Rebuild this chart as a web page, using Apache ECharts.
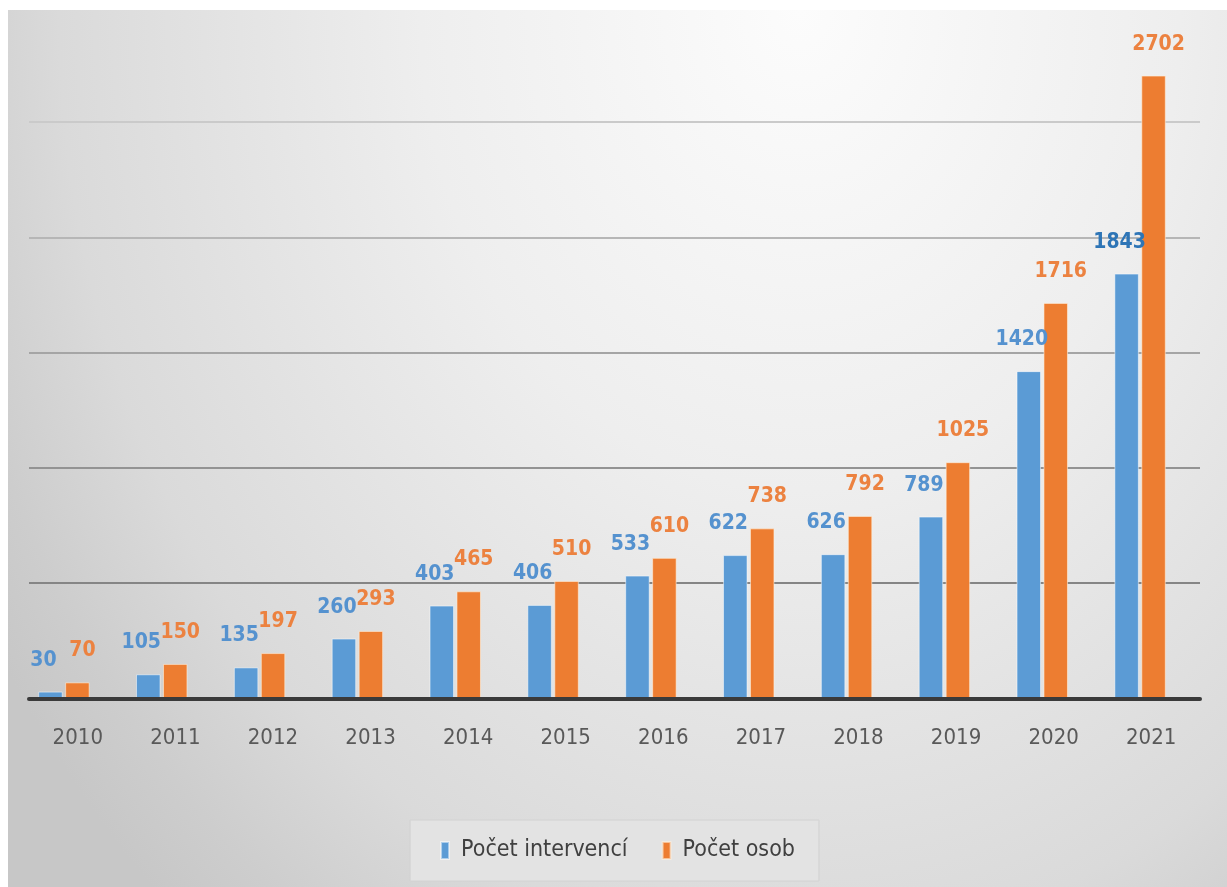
<!DOCTYPE html>
<html><head><meta charset="utf-8">
<script src="https://cdn.jsdelivr.net/npm/echarts@6/dist/echarts.min.js"></script>
<style>
html,body{margin:0;padding:0;background:#fff;width:1227px;height:887px;overflow:hidden}
#c{position:absolute;left:8px;top:10px;width:1219px;height:877px;
background:radial-gradient(ellipse 950px 1200px at 65% 0%, #fcfcfc 0%, #eeeeee 40%, #dadada 78%, #cdcdcd 92%, #c7c7c7 100%);}
</style></head><body><div id="c"></div>
<script>
const categories = ['2010','2011','2012','2013','2014','2015','2016','2017','2018','2019','2020','2021'];
const interventions = [30,105,135,260,403,406,533,622,626,789,1420,1843];
const persons = [70,150,197,293,465,510,610,738,792,1025,1716,2702];
const seriesNames = ['Počet intervencí','Počet osob'];

const FONT = "'DejaVu Sans Condensed','DejaVu Sans',sans-serif";
const chart = echarts.init(document.getElementById('c'));
const yCommon = {type:'value', min:0, max:2800, interval:500};
chart.setOption({
  backgroundColor:'transparent',
  animation:false,
  grid:[
    {left:21, right:27, top:43, bottom:188.5},
    {left:7, right:38, top:43, bottom:188.5}
  ],
  legend:{
    data:seriesNames, top:810, left:'center', icon:'rect',
    itemWidth:8, itemHeight:17, itemGap:34,
    backgroundColor:'#e3e3e3', borderColor:'#d2d2d2', borderWidth:1,
    padding:[19,24,19,30],
    textStyle:{fontFamily:FONT, fontSize:23, color:'#404040', padding:[0,0,0,7]}
  },
  xAxis:[
    {type:'category', gridIndex:0, data:categories, z:5,
     axisLine:{lineStyle:{color:'#3a3a3a', width:4}},
     axisTick:{show:false},
     axisLabel:{fontFamily:FONT, fontSize:22, color:'#595959', margin:29}},
    {type:'category', gridIndex:1, data:categories, show:false}
  ],
  yAxis:[
    Object.assign({gridIndex:0, axisLabel:{show:false}, axisLine:{show:false}, axisTick:{show:false},
      splitLine:{show:true, lineStyle:{width:2, color:['transparent','#858585','#939393','#a5a5a5','#b6b6b6','#cacaca','transparent']}}}, yCommon),
    Object.assign({gridIndex:1, show:false, splitLine:{show:false}}, yCommon)
  ],
  series:[
    {name:seriesNames[0], type:'bar', xAxisIndex:1, yAxisIndex:1,
     barWidth:24.5, barGap:'10%',
     itemStyle:{color:'#5b9bd5', borderColor:'rgba(255,255,255,0.5)', borderWidth:1},
     label:{show:true, position:'top', distance:21, offset:[-7,0], color:'#5592cf',
       fontFamily:FONT, fontWeight:'bold', fontSize:21},
     data:interventions.map((v,i)=> i===interventions.length-1 ? {value:v, label:{color:'#2e75b6'}} : v)},
    {name:seriesNames[1], type:'bar', xAxisIndex:1, yAxisIndex:1,
     barWidth:24.5, barGap:'10%',
     itemStyle:{color:'#ed7d31', borderColor:'rgba(255,240,220,0.6)', borderWidth:1},
     label:{show:true, position:'top', distance:21, offset:[5,0], color:'#ec8240',
       fontFamily:FONT, fontWeight:'bold', fontSize:21},
     data:persons}
  ]
});
</script></body></html>
